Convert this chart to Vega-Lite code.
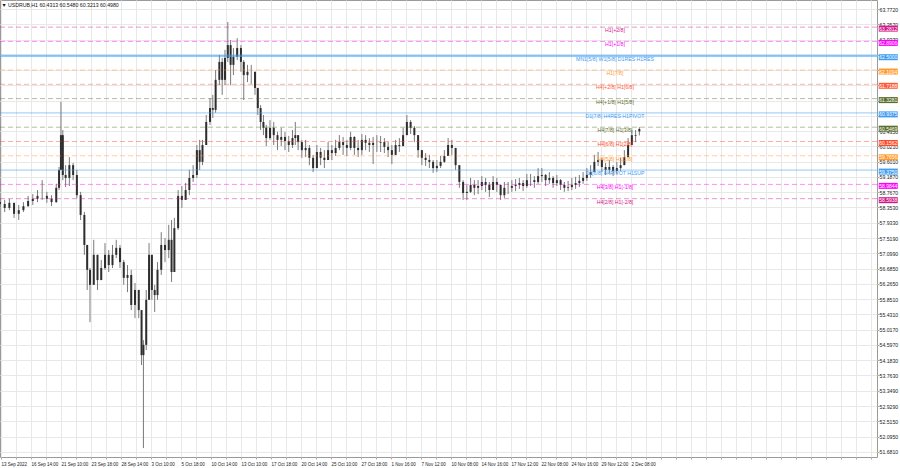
{
  "$schema": "https://vega.github.io/schema/vega-lite/v6.json",
  "width": 877,
  "height": 457,
  "autosize": {"type": "none"},
  "padding": {"left": 0, "top": 0, "right": 23, "bottom": 11},
  "background": "white",
  "config": {"view": {"stroke": "#9a9a9a", "strokeWidth": 1}, "font": "Liberation Sans"},
  "datasets": {
    "bars": [
      {"b":0,"o":58.50,"h":58.61,"l":58.34,"c":58.45},
      {"b":5,"o":58.45,"h":58.56,"l":58.23,"c":58.34},
      {"b":10,"o":58.34,"h":58.59,"l":58.28,"c":58.48},
      {"b":15,"o":58.48,"h":58.48,"l":58.07,"c":58.18},
      {"b":20,"o":58.18,"h":58.42,"l":58.01,"c":58.28},
      {"b":25,"o":58.28,"h":58.50,"l":58.23,"c":58.39},
      {"b":30,"o":58.39,"h":58.67,"l":58.37,"c":58.53},
      {"b":35,"o":58.53,"h":58.72,"l":58.42,"c":58.59},
      {"b":40,"o":58.59,"h":58.83,"l":58.50,"c":58.67},
      {"b":45,"o":58.67,"h":59.10,"l":58.56,"c":58.67},
      {"b":50,"o":58.67,"h":58.78,"l":58.48,"c":58.59},
      {"b":55,"o":58.59,"h":58.69,"l":58.39,"c":58.50},
      {"b":60,"o":58.50,"h":59.00,"l":58.48,"c":58.89},
      {"b":63,"o":58.89,"h":59.46,"l":58.83,"c":59.38},
      {"b":65,"o":59.38,"h":61.24,"l":59.38,"c":60.33},
      {"b":67,"o":60.33,"h":60.47,"l":59.10,"c":59.24},
      {"b":70,"o":59.24,"h":59.51,"l":58.91,"c":59.16},
      {"b":74,"o":59.16,"h":59.73,"l":58.94,"c":59.51},
      {"b":78,"o":59.51,"h":59.57,"l":59.10,"c":59.24},
      {"b":82,"o":59.24,"h":59.38,"l":58.61,"c":58.69},
      {"b":86,"o":58.69,"h":58.78,"l":58.01,"c":58.15},
      {"b":90,"o":58.15,"h":58.23,"l":57.06,"c":57.33},
      {"b":93,"o":57.33,"h":57.33,"l":56.10,"c":56.65},
      {"b":96,"o":56.65,"h":56.70,"l":55.22,"c":56.24},
      {"b":100,"o":56.24,"h":57.47,"l":56.24,"c":57.06},
      {"b":104,"o":57.06,"h":57.06,"l":56.10,"c":56.37},
      {"b":108,"o":56.37,"h":56.92,"l":56.37,"c":56.70},
      {"b":112,"o":56.70,"h":57.38,"l":56.65,"c":57.06},
      {"b":116,"o":57.06,"h":57.19,"l":56.59,"c":56.78},
      {"b":120,"o":56.78,"h":57.33,"l":56.70,"c":57.06},
      {"b":124,"o":57.06,"h":57.47,"l":56.97,"c":57.25},
      {"b":128,"o":57.25,"h":57.33,"l":56.70,"c":56.86},
      {"b":132,"o":56.86,"h":56.92,"l":56.24,"c":56.43},
      {"b":136,"o":56.43,"h":56.78,"l":56.04,"c":56.51},
      {"b":140,"o":56.51,"h":56.65,"l":55.55,"c":55.69},
      {"b":144,"o":55.69,"h":56.29,"l":55.33,"c":56.10},
      {"b":148,"o":56.10,"h":56.10,"l":55.33,"c":55.55},
      {"b":151,"o":55.55,"h":55.55,"l":54.05,"c":54.32},
      {"b":153,"o":54.32,"h":54.73,"l":51.78,"c":54.60},
      {"b":156,"o":54.60,"h":56.10,"l":54.46,"c":55.83},
      {"b":159,"o":55.83,"h":57.38,"l":55.83,"c":57.06},
      {"b":162,"o":57.06,"h":57.06,"l":55.83,"c":56.10},
      {"b":165,"o":56.10,"h":56.24,"l":55.50,"c":55.96},
      {"b":168,"o":55.96,"h":56.86,"l":55.83,"c":56.65},
      {"b":172,"o":56.65,"h":57.68,"l":56.51,"c":57.33},
      {"b":176,"o":57.33,"h":57.52,"l":56.86,"c":57.19},
      {"b":180,"o":57.19,"h":57.88,"l":56.97,"c":57.47},
      {"b":183,"o":57.47,"h":58.01,"l":56.32,"c":56.59},
      {"b":186,"o":56.59,"h":58.07,"l":56.59,"c":57.79},
      {"b":190,"o":57.79,"h":58.83,"l":57.74,"c":58.67},
      {"b":194,"o":58.67,"h":58.94,"l":58.34,"c":58.56},
      {"b":198,"o":58.56,"h":59.02,"l":58.56,"c":58.83},
      {"b":202,"o":58.83,"h":59.38,"l":58.69,"c":59.16},
      {"b":206,"o":59.16,"h":59.51,"l":59.05,"c":59.24},
      {"b":210,"o":59.24,"h":60.06,"l":59.16,"c":59.92},
      {"b":213,"o":59.92,"h":60.20,"l":59.38,"c":59.60},
      {"b":216,"o":59.60,"h":60.20,"l":59.51,"c":60.06},
      {"b":220,"o":60.06,"h":60.88,"l":60.06,"c":60.69},
      {"b":224,"o":60.69,"h":61.34,"l":60.61,"c":61.07},
      {"b":227,"o":61.07,"h":61.43,"l":60.80,"c":61.02},
      {"b":230,"o":61.02,"h":62.11,"l":60.94,"c":61.84},
      {"b":234,"o":61.84,"h":62.52,"l":61.70,"c":62.33},
      {"b":237,"o":62.33,"h":62.44,"l":61.43,"c":61.84},
      {"b":240,"o":61.84,"h":62.66,"l":61.70,"c":62.44},
      {"b":243,"o":62.44,"h":63.42,"l":62.33,"c":62.79},
      {"b":246,"o":62.79,"h":62.93,"l":61.70,"c":62.25},
      {"b":249,"o":62.25,"h":62.71,"l":61.97,"c":62.47},
      {"b":253,"o":62.47,"h":62.98,"l":62.38,"c":62.71},
      {"b":257,"o":62.71,"h":62.79,"l":62.06,"c":62.33},
      {"b":260,"o":62.33,"h":62.38,"l":61.29,"c":61.97},
      {"b":264,"o":61.97,"h":62.25,"l":61.78,"c":62.06},
      {"b":268,"o":62.06,"h":62.25,"l":61.73,"c":62.06},
      {"b":272,"o":62.06,"h":62.06,"l":61.43,"c":61.62},
      {"b":275,"o":61.62,"h":61.62,"l":60.88,"c":61.07},
      {"b":278,"o":61.07,"h":61.15,"l":60.47,"c":60.69},
      {"b":281,"o":60.69,"h":60.88,"l":60.33,"c":60.53},
      {"b":284,"o":60.53,"h":60.61,"l":60.03,"c":60.25},
      {"b":288,"o":60.25,"h":60.74,"l":60.20,"c":60.53},
      {"b":292,"o":60.53,"h":60.69,"l":60.06,"c":60.33},
      {"b":296,"o":60.33,"h":60.42,"l":59.92,"c":60.20},
      {"b":300,"o":60.20,"h":60.53,"l":60.03,"c":60.28},
      {"b":304,"o":60.28,"h":60.42,"l":59.92,"c":60.17},
      {"b":308,"o":60.17,"h":60.31,"l":59.87,"c":60.06},
      {"b":312,"o":60.06,"h":60.47,"l":59.98,"c":60.25},
      {"b":315,"o":60.25,"h":60.69,"l":60.06,"c":60.33},
      {"b":318,"o":60.33,"h":60.33,"l":59.92,"c":60.14},
      {"b":322,"o":60.14,"h":60.20,"l":59.71,"c":59.92},
      {"b":326,"o":59.92,"h":60.20,"l":59.73,"c":59.98},
      {"b":330,"o":59.98,"h":60.06,"l":59.51,"c":59.71},
      {"b":334,"o":59.71,"h":59.79,"l":59.32,"c":59.43},
      {"b":338,"o":59.43,"h":60.06,"l":59.43,"c":59.87},
      {"b":342,"o":59.87,"h":59.98,"l":59.51,"c":59.71},
      {"b":346,"o":59.71,"h":59.92,"l":59.43,"c":59.65},
      {"b":350,"o":59.65,"h":60.14,"l":59.65,"c":59.92},
      {"b":354,"o":59.92,"h":60.06,"l":59.65,"c":59.84},
      {"b":358,"o":59.84,"h":60.20,"l":59.76,"c":59.98},
      {"b":362,"o":59.98,"h":60.33,"l":59.92,"c":60.14},
      {"b":366,"o":60.14,"h":60.28,"l":59.79,"c":60.06},
      {"b":370,"o":60.06,"h":60.20,"l":59.76,"c":59.98},
      {"b":374,"o":59.98,"h":60.42,"l":59.92,"c":60.28},
      {"b":378,"o":60.28,"h":60.30,"l":59.79,"c":59.98},
      {"b":382,"o":59.98,"h":60.20,"l":59.73,"c":59.92},
      {"b":386,"o":59.92,"h":60.36,"l":59.79,"c":60.20},
      {"b":390,"o":60.20,"h":60.33,"l":59.92,"c":60.12},
      {"b":394,"o":60.12,"h":60.25,"l":59.87,"c":60.06},
      {"b":398,"o":60.06,"h":60.28,"l":59.54,"c":60.12},
      {"b":402,"o":60.12,"h":60.33,"l":59.87,"c":60.12},
      {"b":406,"o":60.12,"h":60.31,"l":59.87,"c":60.14},
      {"b":410,"o":60.14,"h":60.25,"l":59.84,"c":60.01},
      {"b":414,"o":60.01,"h":60.14,"l":59.73,"c":59.92},
      {"b":418,"o":59.92,"h":60.06,"l":59.54,"c":59.79},
      {"b":422,"o":59.79,"h":60.20,"l":59.79,"c":60.06},
      {"b":426,"o":60.06,"h":60.25,"l":59.87,"c":60.03},
      {"b":430,"o":60.03,"h":60.53,"l":60.03,"c":60.33},
      {"b":434,"o":60.33,"h":60.88,"l":60.33,"c":60.69},
      {"b":438,"o":60.69,"h":60.74,"l":60.36,"c":60.53},
      {"b":442,"o":60.53,"h":60.58,"l":60.14,"c":60.33},
      {"b":446,"o":60.33,"h":60.33,"l":59.71,"c":59.92},
      {"b":450,"o":59.92,"h":59.92,"l":59.51,"c":59.71},
      {"b":454,"o":59.71,"h":59.84,"l":59.49,"c":59.65},
      {"b":458,"o":59.65,"h":59.79,"l":59.43,"c":59.60},
      {"b":462,"o":59.60,"h":59.65,"l":59.30,"c":59.43},
      {"b":466,"o":59.43,"h":59.65,"l":59.32,"c":59.49},
      {"b":470,"o":59.49,"h":59.76,"l":59.43,"c":59.60},
      {"b":474,"o":59.60,"h":59.92,"l":59.57,"c":59.76},
      {"b":478,"o":59.76,"h":60.25,"l":59.76,"c":60.06},
      {"b":482,"o":60.06,"h":60.20,"l":59.79,"c":59.98},
      {"b":486,"o":59.98,"h":59.98,"l":59.38,"c":59.51},
      {"b":490,"o":59.51,"h":59.51,"l":58.89,"c":59.05},
      {"b":494,"o":59.05,"h":59.10,"l":58.56,"c":58.75},
      {"b":498,"o":58.75,"h":58.97,"l":58.56,"c":58.78},
      {"b":502,"o":58.78,"h":59.16,"l":58.75,"c":58.97},
      {"b":506,"o":58.97,"h":59.10,"l":58.69,"c":58.89},
      {"b":510,"o":58.89,"h":59.10,"l":58.72,"c":58.94},
      {"b":514,"o":58.94,"h":59.21,"l":58.83,"c":59.05},
      {"b":518,"o":59.05,"h":59.16,"l":58.78,"c":58.97},
      {"b":522,"o":58.97,"h":59.05,"l":58.64,"c":58.83},
      {"b":526,"o":58.83,"h":59.21,"l":58.83,"c":59.05},
      {"b":530,"o":59.05,"h":59.16,"l":58.78,"c":58.97},
      {"b":534,"o":58.97,"h":58.97,"l":58.56,"c":58.69},
      {"b":538,"o":58.69,"h":59.05,"l":58.61,"c":58.89},
      {"b":542,"o":58.89,"h":59.05,"l":58.72,"c":58.89},
      {"b":546,"o":58.89,"h":59.10,"l":58.78,"c":58.94},
      {"b":550,"o":58.94,"h":59.13,"l":58.80,"c":58.97},
      {"b":554,"o":58.97,"h":59.16,"l":58.86,"c":59.02},
      {"b":558,"o":59.02,"h":59.10,"l":58.80,"c":58.94},
      {"b":562,"o":58.94,"h":59.27,"l":58.89,"c":59.10},
      {"b":566,"o":59.10,"h":59.27,"l":58.94,"c":59.10},
      {"b":570,"o":59.10,"h":59.21,"l":58.89,"c":59.05},
      {"b":574,"o":59.05,"h":59.43,"l":59.00,"c":59.21},
      {"b":578,"o":59.21,"h":59.43,"l":59.05,"c":59.24},
      {"b":582,"o":59.24,"h":59.27,"l":58.94,"c":59.10},
      {"b":586,"o":59.10,"h":59.32,"l":59.00,"c":59.16},
      {"b":590,"o":59.16,"h":59.21,"l":58.89,"c":59.02},
      {"b":594,"o":59.02,"h":59.24,"l":58.94,"c":59.10},
      {"b":598,"o":59.10,"h":59.13,"l":58.83,"c":58.97},
      {"b":602,"o":58.97,"h":59.05,"l":58.78,"c":58.89},
      {"b":606,"o":58.89,"h":59.08,"l":58.80,"c":58.91},
      {"b":610,"o":58.91,"h":59.16,"l":58.83,"c":58.97},
      {"b":614,"o":58.97,"h":59.19,"l":58.86,"c":59.02},
      {"b":618,"o":59.02,"h":59.24,"l":58.91,"c":59.08},
      {"b":622,"o":59.08,"h":59.32,"l":59.00,"c":59.16},
      {"b":626,"o":59.16,"h":59.43,"l":59.08,"c":59.24},
      {"b":630,"o":59.24,"h":59.51,"l":59.16,"c":59.32},
      {"b":634,"o":59.32,"h":59.79,"l":59.32,"c":59.60},
      {"b":638,"o":59.60,"h":59.87,"l":59.49,"c":59.65},
      {"b":642,"o":59.65,"h":59.71,"l":59.32,"c":59.46},
      {"b":646,"o":59.46,"h":59.57,"l":59.24,"c":59.38},
      {"b":650,"o":59.38,"h":59.65,"l":59.30,"c":59.46},
      {"b":654,"o":59.46,"h":59.51,"l":59.21,"c":59.35},
      {"b":658,"o":59.35,"h":59.60,"l":59.27,"c":59.43},
      {"b":662,"o":59.43,"h":59.71,"l":59.35,"c":59.51},
      {"b":666,"o":59.51,"h":59.92,"l":59.51,"c":59.73},
      {"b":670,"o":59.73,"h":60.25,"l":59.73,"c":60.06},
      {"b":674,"o":60.06,"h":60.47,"l":60.06,"c":60.33},
      {"b":678,"o":60.33,"h":60.47,"l":60.14,"c":60.31},
      {"b":682,"o":60.4313,"h":60.548,"l":60.3213,"c":60.498}
    ],
    "levels": [
      {"lvl":63.2812,"label":"H1[+2/8]"},
      {"lvl":62.8906,"label":"H1[+1/8]"},
      {"lvl":62.5,"label":"MN1[5/8] W1[5/8] D1RES H1RES"},
      {"lvl":62.1094,"label":"H1[7/8]"},
      {"lvl":61.7188,"label":"H4[+2/8] H1[6/8]"},
      {"lvl":61.3281,"label":"H4[+1/8] H1[5/8]"},
      {"lvl":60.9375,"label":"D1[7/8] H4RES H1PIVOT"},
      {"lvl":60.5469,"label":"H4[7/8] H1[3/8]"},
      {"lvl":60.1562,"label":"H4[6/8] H1[2/8]"},
      {"lvl":59.7656,"label":"H4[5/8] H1[1/8]"},
      {"lvl":59.375,"label":"D1[6/8] H4PIVOT H1SUP"},
      {"lvl":58.9844,"label":"H4[3/8] H1[-1/8]"},
      {"lvl":58.5938,"label":"H4[2/8] H1[-2/8]"}
    ],
    "header": [
      {"t": "▼ USDRUB,H1  60.4313 60.5480 60.3213 60.4980"}
    ]
  },
  "layer": [
    {
      "data": {"name": "bars"},
      "mark": {"type": "rule", "color": "#7a7a7a", "strokeWidth": 1},
      "encoding": {
        "x": {"field": "b", "type": "quantitative", "title": null,
          "scale": {"domain": [0, 935.5], "nice": false, "zero": false},
          "axis": {"values": [1,17,33,49,65,81,97,113,129,145,161,177,193,209,225,241,257,273,289,305,321,337,353,369,385,401,417,433,449,465,481,497,513,529,545,561,577,593,609,625,641,657,673,689,705,721,737,753,769,785,801,817,833,849,865,881,897,913,929],
            "tickCount": 200,
            "labelExpr": "(datum.value - 1) % 32 == 0 && (datum.value - 1) / 32 < 22 ? ['13 Sep 2022','16 Sep 14:00','21 Sep 10:00','23 Sep 18:00','28 Sep 14:00','3 Oct 10:00','5 Oct 18:00','10 Oct 14:00','13 Oct 10:00','17 Oct 18:00','20 Oct 14:00','25 Oct 10:00','27 Oct 18:00','1 Nov 16:00','7 Nov 12:00','10 Nov 08:00','14 Nov 16:00','17 Nov 12:00','22 Nov 08:00','24 Nov 16:00','29 Nov 12:00','2 Dec 08:00'][(datum.value - 1) / 32] : ''",
            "grid": true, "gridColor": "#e8e8e8", "gridWidth": 1,
            "domain": false, "ticks": true, "tickSize": 2, "tickColor": "#aaa",
            "labelAlign": "left", "labelBaseline": "top", "labelPadding": 2, "labelFontSize": 4.5, "labelColor": "#222", "labelOverlap": false, "labelBound": false, "labelFlush": false}},
        "y": {"field": "l", "type": "quantitative", "title": null,
          "scale": {"domain": [51.536, 64.022], "nice": false, "zero": false},
          "axis": {"orient": "right", "values": [51.681,52.095,52.515,52.929,53.349,53.763,54.183,54.597,55.017,55.431,55.851,56.265,56.685,57.099,57.519,57.933,58.353,58.767,59.187,59.601,60.021,60.435,60.855,61.269,61.689,62.103,62.523,62.937,63.357,63.772],
            "tickCount": 200,
            "labelExpr": "indexof([60.855, 61.269, 61.689, 62.103, 62.523], datum.value) >= 0 ? '' : format(datum.value, '.4f')",
            "grid": true, "gridColor": "#e8e8e8", "gridWidth": 1,
            "domain": false, "ticks": true, "tickSize": 2, "tickColor": "#aaa",
            "labelAlign": "left", "labelBaseline": "middle", "labelPadding": 0, "labelFontSize": 5.2, "labelColor": "#222", "labelOverlap": false, "labelBound": false, "labelFlush": false}},
        "y2": {"field": "h"}
      }
    },
    {
      "data": {"name": "bars"},
      "mark": {"type": "rule", "color": "#2e2e2e", "strokeWidth": 2, "strokeCap": "butt"},
      "encoding": {
        "x": {"field": "b", "type": "quantitative", "title": null},
        "y": {"field": "o", "type": "quantitative", "title": null},
        "y2": {"field": "c"}
      }
    },
    {
      "data": {"name": "levels"},
      "mark": {"type": "rule"},
      "encoding": {
        "y": {"field": "lvl", "type": "quantitative", "title": null},
        "color": {"field": "label", "type": "nominal", "legend": null,
          "scale": {"domain": ["H1[+2/8]","H1[+1/8]","MN1[5/8] W1[5/8] D1RES H1RES","H1[7/8]","H4[+2/8] H1[6/8]","H4[+1/8] H1[5/8]","D1[7/8] H4RES H1PIVOT","H4[7/8] H1[3/8]","H4[6/8] H1[2/8]","H4[5/8] H1[1/8]","D1[6/8] H4PIVOT H1SUP","H4[3/8] H1[-1/8]","H4[2/8] H1[-2/8]"],
            "range": ["#d2198a","#ff00ff","#3d9df3","#ff9a2e","#ff5a36","#5b6e2c","#3d9df3","#5b6e2c","#ff4a2a","#ff9a2e","#3d9df3","#ff00ff","#d2198a"]}},
        "strokeWidth": {"condition": {"test": "datum.lvl == 62.5", "value": 2.5}, "value": 1},
        "strokeDash": {"condition": {"test": "indexof(datum.label, 'D1') == 0 || indexof(datum.label, 'MN1') == 0", "value": [1, 0]}, "value": [5, 3]},
        "opacity": {"condition": {"test": "indexof(datum.label, 'D1') == 0 || indexof(datum.label, 'MN1') == 0", "value": 0.55}, "value": 0.45}
      }
    },
    {
      "data": {"name": "levels"},
      "mark": {"type": "text", "fontSize": 5.2, "dy": 3, "align": "center", "baseline": "middle"},
      "encoding": {
        "x": {"datum": 656},
        "y": {"field": "lvl", "type": "quantitative", "title": null},
        "text": {"field": "label"},
        "color": {"field": "label", "type": "nominal", "legend": null}
      }
    },
    {
      "data": {"name": "levels"},
      "mark": {"type": "tick", "orient": "horizontal", "size": 19, "thickness": 6, "opacity": 1, "yOffset": 1.5},
      "encoding": {
        "x": {"datum": 947.5},
        "y": {"field": "lvl", "type": "quantitative", "title": null},
        "color": {"field": "label", "type": "nominal", "legend": null}
      }
    },
    {
      "data": {"name": "levels"},
      "mark": {"type": "text", "fontSize": 5, "align": "center", "baseline": "middle", "color": "white", "dy": 1.5},
      "encoding": {
        "x": {"datum": 947.5},
        "y": {"field": "lvl", "type": "quantitative", "title": null},
        "text": {"field": "lvl", "type": "quantitative", "format": ".4f"}
      }
    },
    {
      "data": {"name": "header"},
      "mark": {"type": "text", "fontSize": 5.2, "align": "left", "baseline": "middle", "color": "#111"},
      "encoding": {
        "x": {"datum": 1.5},
        "y": {"datum": 63.895},
        "text": {"field": "t"}
      }
    }
  ]
}
